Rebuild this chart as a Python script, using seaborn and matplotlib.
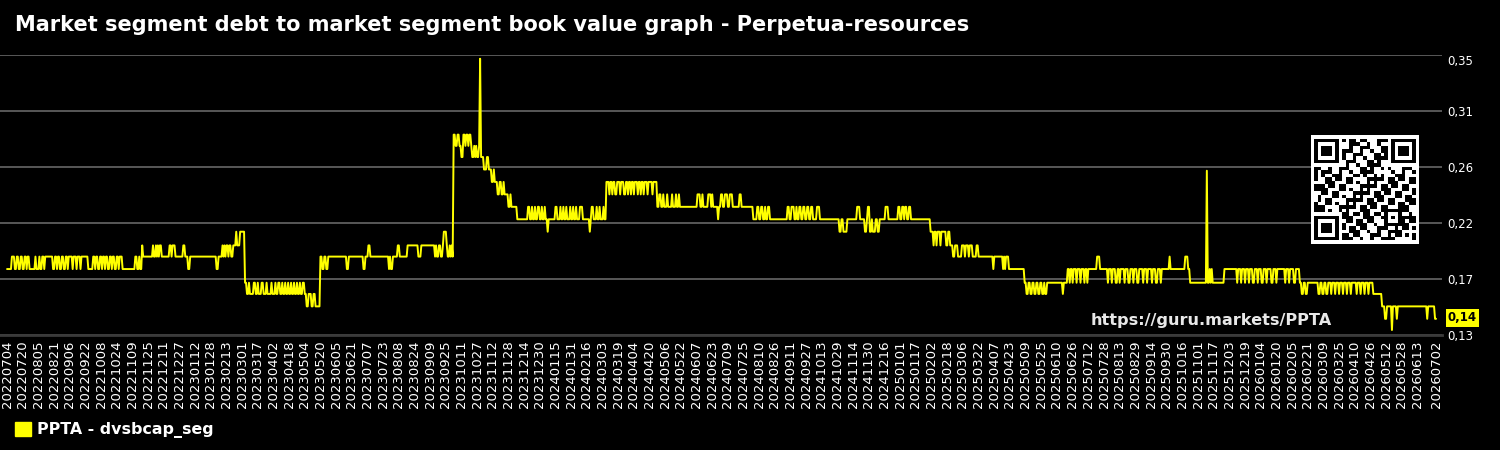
import numpy as np
import pandas as pd
import seaborn as sns
import matplotlib.pyplot as plt
from matplotlib.patches import Patch

# daily series, 2022-07-04 .. 2026-07-02
start_date = '2022-07-04'
end_date = '2026-07-02'

# levels the series sits on
level_values = {
    'U': 0.134, 'T': 0.143, 'G': 0.153, 'F': 0.163, 'E': 0.172,
    'A': 0.183, 'B': 0.193, 'C': 0.202, 'D': 0.213, 'Q': 0.223,
    'P': 0.233, 'O': 0.243, 'N': 0.253, 'S': 0.262, 'M': 0.263,
    'K': 0.273, 'I': 0.282, 'H': 0.291, 'J': 0.352,
}

# (day offset, level) where the value changes; value holds until next change
changes = [
    (0, 'A'), (5, 'B'), (8, 'A'), (10, 'B'), (12, 'A'), (14, 'B'), (16, 'A'), (18, 'B'), (20, 'A'), (21, 'B'),
    (23, 'A'), (29, 'B'), (30, 'A'), (33, 'B'), (34, 'A'), (36, 'B'), (38, 'A'), (39, 'B'), (47, 'A'), (49, 'B'),
    (51, 'A'), (52, 'B'), (54, 'A'), (56, 'B'), (58, 'A'), (60, 'B'), (62, 'A'), (63, 'B'), (67, 'A'), (68, 'B'),
    (71, 'A'), (72, 'B'), (75, 'A'), (76, 'B'), (83, 'A'), (88, 'B'), (90, 'A'), (91, 'B'), (93, 'A'), (95, 'B'),
    (97, 'A'), (98, 'B'), (100, 'A'), (101, 'B'), (103, 'A'), (105, 'B'), (107, 'A'), (108, 'B'), (110, 'A'),
    (112, 'B'), (114, 'A'), (115, 'B'), (118, 'A'), (131, 'B'), (133, 'A'), (135, 'B'), (136, 'A'),
    (138, 'C'), (139, 'B'), (149, 'C'), (150, 'B'), (152, 'C'), (153, 'B'), (154, 'C'), (155, 'B'), (156, 'C'),
    (158, 'B'), (166, 'C'), (168, 'B'), (169, 'C'), (172, 'B'), (180, 'C'), (182, 'B'), (185, 'A'), (187, 'B'),
    (214, 'A'), (216, 'B'), (220, 'C'), (221, 'B'), (222, 'C'), (223, 'B'), (224, 'C'), (226, 'B'), (227, 'C'),
    (229, 'B'), (231, 'C'), (234, 'D'), (235, 'C'), (238, 'D'),
    (243, 'E'), (245, 'F'), (247, 'E'), (248, 'F'), (252, 'E'), (254, 'F'), (256, 'E'), (257, 'F'), (260, 'E'),
    (262, 'F'), (265, 'E'), (266, 'F'), (270, 'E'), (271, 'F'), (274, 'E'), (275, 'F'), (277, 'E'), (279, 'F'),
    (281, 'E'), (282, 'F'), (284, 'E'), (285, 'F'), (287, 'E'), (288, 'F'), (290, 'E'), (291, 'F'), (293, 'E'),
    (294, 'F'), (296, 'E'), (297, 'F'), (299, 'E'), (300, 'F'), (302, 'E'), (304, 'F'), (306, 'G'), (308, 'F'),
    (311, 'G'), (313, 'F'), (315, 'G'),
    (320, 'B'), (322, 'A'), (324, 'B'), (326, 'A'), (328, 'B'), (347, 'A'), (349, 'B'), (364, 'A'), (366, 'B'),
    (369, 'C'), (371, 'B'), (390, 'A'), (391, 'B'), (392, 'A'), (394, 'B'), (399, 'C'), (401, 'B'), (409, 'C'),
    (420, 'B'), (423, 'C'), (437, 'B'), (438, 'C'), (439, 'B'), (441, 'C'), (443, 'B'), (445, 'C'), (446, 'D'),
    (449, 'C'), (450, 'B'), (452, 'C'), (453, 'B'), (454, 'C'), (455, 'B'),
    (456, 'H'), (458, 'I'), (460, 'H'), (462, 'I'), (464, 'K'), (466, 'H'), (468, 'I'), (469, 'H'), (471, 'I'),
    (472, 'H'), (474, 'I'), (475, 'K'), (477, 'I'), (478, 'K'), (479, 'I'), (480, 'K'), (482, 'I'), (483, 'J'),
    (484, 'K'), (487, 'M'), (490, 'K'), (492, 'M'), (495, 'N'), (497, 'M'), (498, 'N'), (501, 'O'), (503, 'N'),
    (505, 'O'), (507, 'N'), (508, 'O'), (512, 'P'), (514, 'O'), (515, 'P'), (521, 'Q'),
    (532, 'P'), (534, 'Q'), (536, 'P'), (537, 'Q'), (539, 'P'), (540, 'Q'), (542, 'P'), (544, 'Q'), (546, 'P'),
    (547, 'Q'), (549, 'P'), (550, 'Q'), (552, 'D'), (553, 'Q'), (560, 'P'), (562, 'Q'), (565, 'P'), (566, 'Q'),
    (568, 'P'), (569, 'Q'), (571, 'P'), (572, 'Q'), (575, 'P'), (576, 'Q'), (578, 'P'), (579, 'Q'), (581, 'P'),
    (582, 'Q'), (585, 'P'), (588, 'Q'), (595, 'D'), (596, 'Q'), (597, 'P'), (599, 'Q'), (602, 'P'), (603, 'Q'),
    (605, 'P'), (606, 'Q'), (609, 'P'), (610, 'Q'),
    (612, 'N'), (615, 'O'), (616, 'N'), (618, 'O'), (619, 'N'), (621, 'O'), (623, 'N'), (626, 'O'), (627, 'N'),
    (630, 'O'), (632, 'N'), (634, 'O'), (635, 'N'), (637, 'O'), (638, 'N'), (640, 'O'), (641, 'N'), (644, 'O'),
    (645, 'N'), (647, 'O'), (648, 'N'), (650, 'O'), (651, 'N'), (654, 'O'), (655, 'N'), (659, 'O'), (660, 'N'),
    (664, 'P'), (666, 'O'), (668, 'P'), (670, 'O'), (671, 'P'), (674, 'O'), (675, 'P'), (679, 'O'), (680, 'P'),
    (683, 'O'), (684, 'P'), (686, 'O'), (687, 'P'), (705, 'O'), (708, 'P'), (710, 'O'), (711, 'P'), (716, 'O'),
    (719, 'P'), (720, 'O'), (721, 'P'), (726, 'Q'), (727, 'P'), (729, 'O'), (731, 'P'), (733, 'O'), (736, 'P'),
    (738, 'O'), (741, 'P'), (748, 'O'), (750, 'P'), (762, 'Q'), (766, 'P'), (768, 'Q'), (770, 'P'), (772, 'Q'),
    (774, 'P'), (775, 'Q'), (777, 'P'), (779, 'Q'), (797, 'P'), (799, 'Q'), (801, 'P'), (804, 'Q'), (806, 'P'),
    (807, 'Q'), (809, 'P'), (811, 'Q'), (813, 'P'), (815, 'Q'), (817, 'P'), (819, 'Q'), (821, 'P'), (823, 'Q'),
    (827, 'P'), (830, 'Q'), (850, 'D'), (852, 'Q'), (854, 'D'), (858, 'Q'), (868, 'P'), (871, 'Q'), (876, 'D'),
    (878, 'Q'), (879, 'P'), (881, 'D'), (883, 'Q'), (884, 'D'), (887, 'Q'), (889, 'D'), (891, 'Q'), (897, 'P'),
    (900, 'Q'), (910, 'P'), (912, 'Q'), (914, 'P'), (916, 'Q'), (917, 'P'), (919, 'Q'), (921, 'P'), (923, 'Q'),
    (943, 'D'), (946, 'C'), (947, 'D'), (949, 'C'), (950, 'D'), (953, 'C'), (954, 'D'), (959, 'C'), (961, 'D'),
    (963, 'C'), (966, 'B'), (968, 'C'), (971, 'B'),
    (973, 'B'), (975, 'C'), (978, 'B'), (979, 'C'), (982, 'B'), (983, 'C'), (986, 'B'), (990, 'C'), (992, 'B'),
    (1007, 'A'), (1008, 'B'), (1017, 'A'), (1018, 'B'), (1019, 'A'), (1020, 'B'), (1023, 'A'),
    (1039, 'E'), (1041, 'F'), (1043, 'E'), (1045, 'F'), (1047, 'E'), (1049, 'F'), (1051, 'E'), (1053, 'F'),
    (1055, 'E'), (1057, 'F'), (1059, 'E'), (1060, 'F'), (1062, 'E'), (1078, 'F'), (1079, 'E'),
    (1083, 'A'), (1085, 'E'), (1086, 'A'), (1088, 'E'), (1089, 'A'), (1092, 'E'), (1093, 'A'), (1096, 'E'),
    (1097, 'A'), (1100, 'E'), (1101, 'A'), (1103, 'E'), (1104, 'A'), (1113, 'B'), (1116, 'A'), (1124, 'E'),
    (1125, 'A'), (1128, 'E'), (1129, 'A'), (1132, 'E'), (1134, 'A'), (1136, 'E'), (1137, 'A'), (1141, 'E'),
    (1142, 'A'), (1145, 'E'), (1147, 'A'), (1150, 'E'), (1151, 'A'), (1154, 'E'), (1156, 'A'), (1160, 'E'),
    (1161, 'A'), (1164, 'E'), (1165, 'A'), (1169, 'E'), (1170, 'A'), (1173, 'E'), (1175, 'A'), (1178, 'E'),
    (1179, 'A'), (1187, 'B'), (1188, 'A'), (1203, 'B'), (1206, 'A'), (1208, 'E'),
    (1225, 'S'), (1226, 'E'), (1228, 'A'), (1229, 'E'), (1230, 'A'), (1231, 'E'), (1243, 'A'), (1256, 'E'),
    (1257, 'A'), (1260, 'E'), (1261, 'A'), (1264, 'E'), (1265, 'A'), (1268, 'E'), (1269, 'A'), (1272, 'E'),
    (1274, 'A'), (1277, 'E'), (1278, 'A'), (1281, 'E'), (1283, 'A'), (1286, 'E'), (1287, 'A'), (1291, 'E'),
    (1293, 'A'), (1296, 'E'), (1297, 'A'), (1305, 'E'), (1306, 'A'), (1309, 'E'), (1310, 'A'), (1314, 'E'),
    (1316, 'A'), (1320, 'E'), (1322, 'F'), (1324, 'E'), (1326, 'F'), (1328, 'E'), (1339, 'F'), (1341, 'E'),
    (1343, 'F'), (1345, 'E'), (1347, 'F'), (1349, 'E'), (1352, 'F'), (1353, 'E'), (1356, 'F'), (1357, 'E'),
    (1360, 'F'), (1361, 'E'), (1364, 'F'), (1365, 'E'), (1368, 'F'), (1369, 'E'), (1372, 'F'), (1373, 'E'),
    (1378, 'F'), (1379, 'E'), (1382, 'F'), (1383, 'E'), (1386, 'F'), (1387, 'E'), (1390, 'F'), (1391, 'E'),
    (1395, 'F'), (1404, 'G'), (1407, 'T'), (1409, 'G'), (1414, 'U'), (1415, 'G'), (1419, 'T'), (1420, 'G'),
    (1450, 'T'), (1451, 'G'), (1458, 'T'),
]

y_ticks = [0.13, 0.175, 0.22, 0.265, 0.31, 0.355]
y_tick_labels = ['0,13', '0,17', '0,22', '0,26', '0,31', '0,35']
last_label = '0,14'
series_name = 'PPTA - dvsbcap_seg'
title = 'Market segment debt to market segment book value graph - Perpetua-resources'
site = 'https://guru.markets/PPTA'

# build the daily table
dates = pd.date_range(start_date, end_date, freq='D')
n = len(dates)
vals = pd.Series(np.nan, index=range(n))
for day, code in changes:
    vals[day] = level_values[code]
vals = vals.ffill()
df = pd.DataFrame({'idx': range(n), 'value': vals.values, 'date': dates.strftime('%Y%m%d')})

sns.set_theme(style='dark', rc={
    'figure.facecolor': 'black', 'axes.facecolor': 'black',
    'text.color': 'white', 'xtick.color': 'white', 'ytick.color': 'white',
})
plt.rcParams['font.family'] = ['DejaVu Sans']

fig = plt.figure(figsize=(15, 4.5), dpi=100)
ax = fig.add_axes([0, 1 - 335 / 450, 1442 / 1500, 280 / 450])

sns.lineplot(data=df, x='idx', y='value', color='#ffff00', linewidth=1.4, ax=ax)

ax.set_xlim(-7.2, n - 1 + 6.1)
ax.set_ylim(y_ticks[0], y_ticks[-1])
ax.set_xlabel('')
ax.set_ylabel('')

# x ticks every 16 days plus the last day
tick_idx = [i for i in range(0, n, 16) if n - 1 - i >= 8] + [n - 1]
ax.set_xticks(tick_idx)
ax.set_xticklabels(df['date'].iloc[tick_idx], rotation=90, fontsize=9.5)
ax.tick_params(axis='x', length=0, pad=4)

ax.yaxis.tick_right()
ax.set_yticks(y_ticks)
ax.set_yticklabels(y_tick_labels, fontsize=8.5)
ax.tick_params(axis='y', length=0, pad=4)
ylabels = ax.get_yticklabels()
ylabels[-1].set_va('top')

ax.grid(axis='y', color='#707070', linewidth=1.1)
ax.grid(axis='x', visible=False)
for side in ['top', 'left', 'right']:
    ax.spines[side].set_visible(False)
ax.spines['bottom'].set_color('#3a3a3a')
ax.spines['bottom'].set_linewidth(2)

# last value tag
last_val = df['value'].iloc[-1]
ax.annotate(last_label, xy=(1, last_val), xycoords=('axes fraction', 'data'),
            xytext=(6, 1), textcoords='offset pixels', ha='left', va='center',
            fontsize=8.5, fontweight='bold', color='black',
            bbox=dict(boxstyle='square,pad=0.2', fc='#ffff00', ec='none'),
            annotation_clip=False, zorder=10)

ax.text(1091 / 1442, 15 / 280, site, transform=ax.transAxes, ha='left', va='center',
        fontsize=11.6, fontweight='bold', color='#e8e8e8')

fig.text(15 / 1500, 1 - 25 / 450, title, ha='left', va='center',
         fontsize=15, fontweight='bold', color='white')

fig.legend(handles=[Patch(color='#ffff00')], labels=[series_name],
           loc='center left', bbox_to_anchor=(1 / 1500, 1 - 430 / 450),
           frameon=False, handlelength=1, handleheight=1, handletextpad=0.4,
           prop={'weight': 'bold', 'size': 11.4}, labelcolor='white')

# QR-like badge
qr_n = 29
qr = np.zeros((qr_n, qr_n), dtype=int)
for r in range(qr_n):
    for c in range(qr_n):
        h = (r * 73856093) ^ (c * 19349663) ^ (ord(site[(r + c) % len(site)]) * 83492791)
        qr[r, c] = (h >> 6) & 1


def finder(r0, c0, size):
    rs, cs = slice(max(r0 - 1, 0), r0 + size + 1), slice(max(c0 - 1, 0), c0 + size + 1)
    qr[rs, cs] = 0
    qr[r0:r0 + size, c0:c0 + size] = 1
    qr[r0 + 1:r0 + size - 1, c0 + 1:c0 + size - 1] = 0
    qr[r0 + 2:r0 + size - 2, c0 + 2:c0 + size - 2] = 1


finder(0, 0, 7)
finder(0, qr_n - 7, 7)
finder(qr_n - 7, 0, 7)
qr[20:25, 20:25] = 1
qr[21:24, 21:24] = 0
qr[22, 22] = 1
qr = np.pad(qr, 1)

qax = fig.add_axes([1311 / 1500, 1 - 244 / 450, 108 / 1500, 109 / 450])
qax.imshow(qr, cmap='gray_r', interpolation='nearest', aspect='auto')
qax.axis('off')

fig.savefig('out.png', dpi=100, facecolor='black')
